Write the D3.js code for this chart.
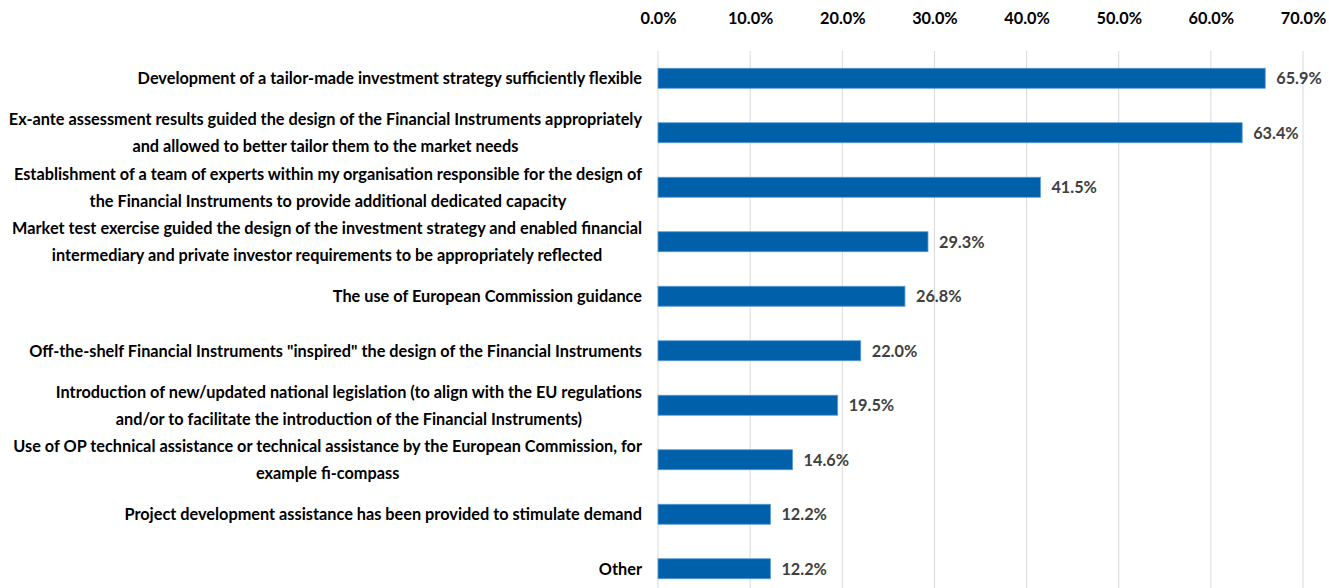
<!DOCTYPE html>
<html>
<head>
<meta charset="utf-8">
<script src="https://cdn.jsdelivr.net/npm/d3@7"></script>
<style>
  html, body { margin: 0; padding: 0; background: #fff; }
  svg { display: block; }
  .lbl { font-family: Lato, "Liberation Sans", sans-serif; font-weight: bold; }
</style>
</head>
<body>
<svg id="chart" width="1329" height="588"></svg>
<script>
// Survey factors (each label split into display lines) and share of respondents (%)
const categories = [
  ["Development of a tailor-made investment strategy sufficiently flexible"],
  ["Ex-ante assessment results guided the design of the Financial Instruments appropriately", "and allowed to better tailor them to the market needs"],
  ["Establishment of a team of experts within my organisation responsible for the design of", "the Financial Instruments to provide additional dedicated capacity"],
  ["Market test exercise guided the design of the investment strategy and enabled financial", "intermediary and private investor requirements to be appropriately reflected"],
  ["The use of European Commission guidance"],
  ["Off-the-shelf Financial Instruments \"inspired\" the design of the Financial Instruments"],
  ["Introduction of new/updated national legislation (to align with the EU regulations", "and/or to facilitate the introduction of the Financial Instruments)"],
  ["Use of OP technical assistance or technical assistance by the European Commission, for", "example fi-compass"],
  ["Project development assistance has been provided to stimulate demand"],
  ["Other"]
];
const values = [65.9, 63.4, 41.5, 29.3, 26.8, 22.0, 19.5, 14.6, 12.2, 12.2];
const tickValues = [0, 10, 20, 30, 40, 50, 60, 70];

const svg = d3.select("#chart");
const x0 = 658, x1 = 1303;
const fontSize = 16.3;

const x = d3.scaleLinear().domain([0, 70]).range([x0, x1]);
const y = d3.scaleBand()
  .domain(d3.range(categories.length))
  .range([51, 596])
  .paddingInner(0.633)
  .paddingOuter(0.3165);

// vertical gridlines
svg.append("g")
  .selectAll("line")
  .data(tickValues)
  .join("line")
  .attr("x1", d => x(d)).attr("x2", d => x(d))
  .attr("y1", 51).attr("y2", 588)
  .attr("stroke", "#d9d9d9")
  .attr("stroke-width", 1);

// top axis labels
const axis = d3.axisTop(x).tickValues(tickValues).tickSize(0).tickFormat(d => d3.format(".1f")(d) + "%");
const gAxis = svg.append("g").attr("transform", "translate(0,27)").call(axis);
gAxis.select(".domain").remove();
gAxis.selectAll("text")
  .attr("class", "lbl")
  .attr("font-size", fontSize)
  .attr("fill", "#000")
  .attr("dy", 0);

// bars
svg.append("g")
  .selectAll("rect")
  .data(values)
  .join("rect")
  .attr("x", x(0))
  .attr("y", (d, i) => y(i))
  .attr("width", d => x(d) - x(0))
  .attr("height", y.bandwidth())
  .attr("fill", "#0060a9")
  .attr("stroke", "#5b9bd5")
  .attr("stroke-width", 0.8);

// value labels
svg.append("g")
  .selectAll("text")
  .data(values)
  .join("text")
  .attr("class", "lbl")
  .attr("x", d => x(d) + 11)
  .attr("y", (d, i) => y(i) + y.bandwidth() / 2)
  .attr("dy", "0.36em")
  .attr("font-size", fontSize)
  .attr("fill", "#404040")
  .text(d => d3.format(".1f")(d) + "%");

// category labels: right-aligned block, wrapped lines centred within it
const labelRight = 642;
const lineGap = 27;
const gLab = svg.append("g");
categories.forEach((lines, i) => {
  const cy = y(i) + y.bandwidth() / 2;
  const t = gLab.append("text")
    .attr("class", "lbl")
    .attr("font-size", fontSize)
    .attr("fill", "#000");
  const spans = lines.map((s, k) => t.append("tspan")
    .attr("y", cy + (k - (lines.length - 1) / 2) * lineGap)
    .attr("dy", "0.36em")
    .text(s));
  const widths = spans.map(sp => sp.node().getComputedTextLength());
  const wMax = d3.max(widths);
  const center = labelRight - wMax / 2;
  spans.forEach(sp => sp.attr("x", center).attr("text-anchor", "middle"));
});
</script>
</body>
</html>
